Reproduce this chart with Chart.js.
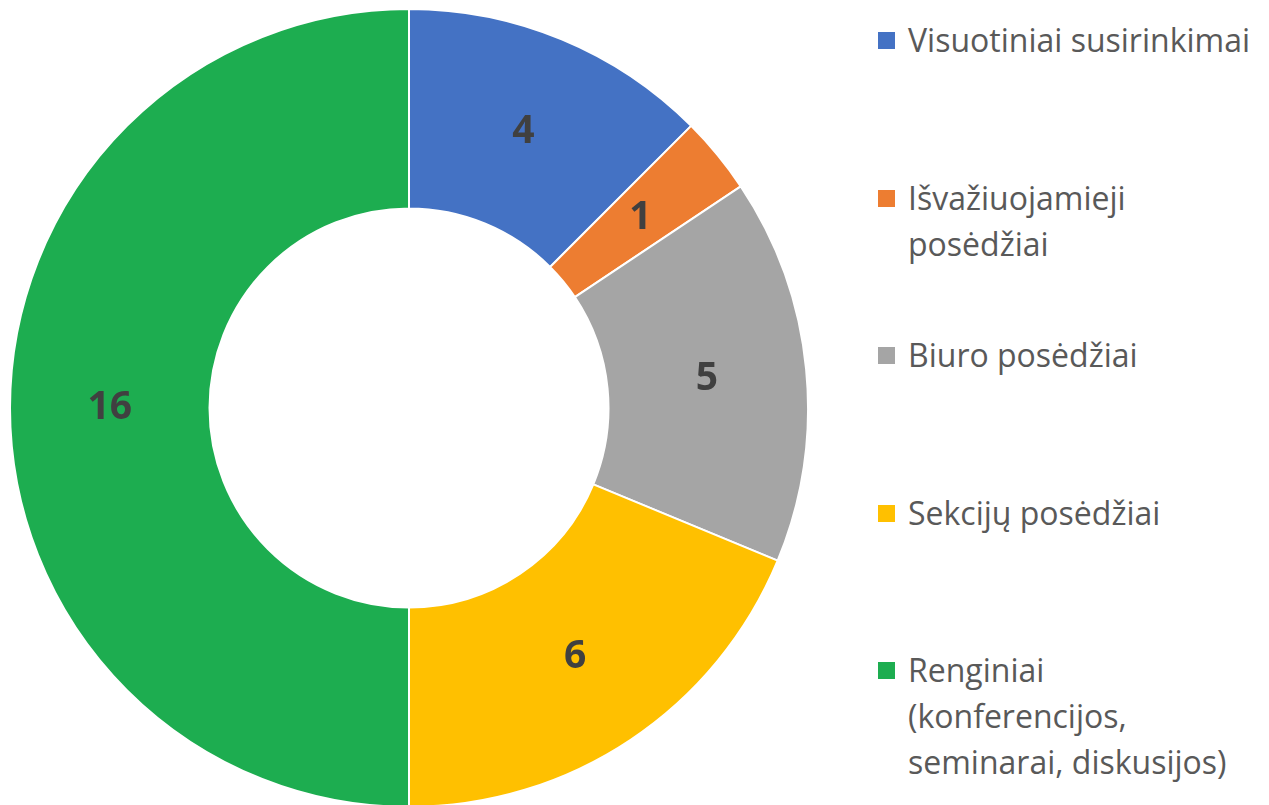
<!DOCTYPE html>
<html>
<head>
<meta charset="utf-8">
<script src="https://cdn.jsdelivr.net/npm/chart.js@4/dist/chart.umd.min.js"></script>
<style>
  html, body { margin: 0; padding: 0; background: #fff; overflow: hidden; }
  #wrap { position: relative; width: 1269px; height: 805px; }
  #chartBox { position: absolute; left: 9px; top: 8px; width: 800px; height: 800px; }
  #legend { position: absolute; left: 878px; top: 0; }
  .item { position: absolute; left: 0; white-space: nowrap; font-family: "Open Sans", sans-serif;
          font-size: 32px; line-height: 46px; color: #595959; }
  .item .box { position: absolute; left: 0; top: 15px; width: 17px; height: 17px; }
  .item .txt { position: absolute; left: 30px; top: 0; }
</style>
</head>
<body>
<div id="wrap">
  <div id="chartBox"><canvas id="c"></canvas></div>
  <div id="legend"></div>
</div>
<script>
const labels = [
  ['Visuotiniai susirinkimai'],
  ['Išvažiuojamieji', 'posėdžiai'],
  ['Biuro posėdžiai'],
  ['Sekcijų posėdžiai'],
  ['Renginiai', '(konferencijos,', 'seminarai, diskusijos)'],
];
const values = [4, 1, 5, 6, 16];
const colors = ['#4472C4', '#ED7D31', '#A5A5A5', '#FFC000', '#1DAD50'];

// numbers in the middle of each ring segment
const valueLabels = {
  id: 'valueLabels',
  afterDatasetsDraw(chart) {
    const { ctx } = chart;
    const meta = chart.getDatasetMeta(0);
    ctx.save();
    ctx.font = 'bold 39px "Open Sans", sans-serif';
    ctx.fillStyle = '#404040';
    ctx.textAlign = 'center';
    ctx.textBaseline = 'middle';
    meta.data.forEach((arc, i) => {
      const p = arc.tooltipPosition();
      ctx.fillText(String(chart.data.datasets[0].data[i]), p.x, p.y);
    });
    ctx.restore();
  },
};

new Chart(document.getElementById('c'), {
  type: 'doughnut',
  data: {
    labels,
    datasets: [{
      data: values,
      backgroundColor: colors,
      borderColor: '#ffffff',
      borderWidth: 2,
    }],
  },
  options: {
    responsive: true,
    maintainAspectRatio: false,
    animation: false,
    cutout: '50%',
    layout: { padding: 0 },
    plugins: {
      legend: { display: false },
      tooltip: { enabled: false },
    },
  },
  plugins: [valueLabels],
});

// legend, entries spread evenly down the right side like the original
const legend = document.getElementById('legend');
labels.forEach((lines, i) => {
  const item = document.createElement('div');
  item.className = 'item';
  item.style.top = (17 + i * 157.5) + 'px';
  const box = document.createElement('span');
  box.className = 'box';
  box.style.background = colors[i];
  const txt = document.createElement('span');
  txt.className = 'txt';
  txt.innerHTML = lines.join('<br>');
  item.appendChild(box);
  item.appendChild(txt);
  legend.appendChild(item);
});
</script>
</body>
</html>
